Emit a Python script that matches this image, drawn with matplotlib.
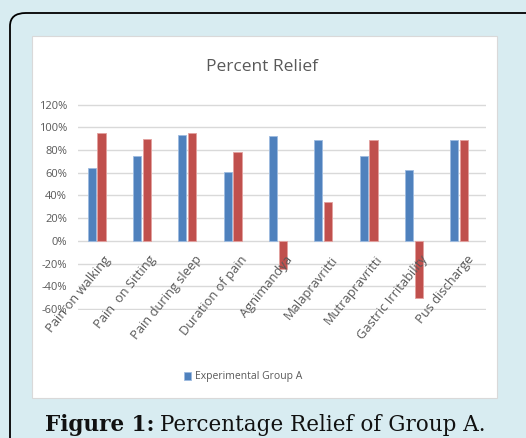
import matplotlib
matplotlib.use('Agg')
import matplotlib.pyplot as plt
from matplotlib.patches import FancyBboxPatch, Rectangle
from matplotlib.ticker import FuncFormatter, MultipleLocator
import numpy as np

# data
categories = ['Pain on walking', 'Pain  on Sitting', 'Pain during sleep', 'Duration of pain',
              'Agnimandya', 'Malapravritti', 'Mutrapravritti', 'Gastric Irritability',
              'Pus discharge']
group_a = [0.64, 0.75, 0.93, 0.61, 0.92, 0.89, 0.75, 0.62, 0.89]
second = [0.95, 0.90, 0.95, 0.78, -0.25, 0.34, 0.89, -0.50, 0.89]

W, H = 526, 438
fig = plt.figure(figsize=(W / 100, H / 100), dpi=100, facecolor='#d8ecf1')

# rounded outer frame (partly off the canvas like the source)
frame = FancyBboxPatch((10 / W, 1 - 500 / H), 560 / W, 487 / H,
                       boxstyle='round,pad=0,rounding_size=0.03',
                       transform=fig.transFigure, facecolor='none',
                       edgecolor='black', linewidth=1.3)
fig.patches.append(frame)

# white chart panel
panel = Rectangle((32 / W, 1 - 398 / H), (497 - 32) / W, (398 - 36) / H,
                  transform=fig.transFigure, facecolor='white',
                  edgecolor='#d9d9d9', linewidth=0.8)
fig.patches.append(panel)

gray = '#595959'
font = 'Open Sans'

ax = fig.add_axes([78 / W, 1 - 309.5 / H, (486 - 78) / W, (309.5 - 104) / H])
ax.set_zorder(5)
ax.set_facecolor('none')
x = np.arange(len(categories))
ax.bar(x - 0.2, group_a, width=0.18, color='#4F81BD', edgecolor='#9dbbe0',
       linewidth=0.6, label='Experimental Group A', zorder=3)
ax.bar(x + 0.02, second, width=0.18, color='#C0504D', edgecolor='#e3a09e',
       linewidth=0.6, zorder=3)

ax.set_xlim(-0.5, len(categories) - 0.5)
ax.set_ylim(-0.605, 1.205)
ax.yaxis.set_major_locator(MultipleLocator(0.2))
ax.yaxis.set_major_formatter(FuncFormatter(lambda v, p: '%d%%' % round(v * 100)))
ax.grid(axis='y', color='#d9d9d9', linewidth=1.0, zorder=0)
for s in ax.spines.values():
    s.set_visible(False)
ax.tick_params(axis='y', length=0, pad=8, labelcolor=gray, labelsize=8)
for t in ax.get_yticklabels():
    t.set_fontfamily(font)
ax.set_xticks([])

for i, c in enumerate(categories):
    ax.text(i + 0.06, -0.11, c, rotation=51, ha='right', va='top',
            rotation_mode='anchor', color=gray, fontsize=9.3, family=font,
            clip_on=False)

fig.text(262 / W, 1 - 67 / H, 'Percent Relief', ha='center', va='center',
         color=gray, fontsize=12.5, family=font, zorder=6)

leg = fig.legend(handles=ax.get_legend_handles_labels()[0],
                 labels=['Experimental Group A'], loc='center',
                 bbox_to_anchor=(243 / W, 1 - 377 / H), frameon=False,
                 prop={'family': font, 'size': 7.5}, handlelength=0.7,
                 handleheight=0.7, handletextpad=0.4)
leg.set_zorder(6)
for t in leg.get_texts():
    t.set_color(gray)

t1 = fig.text(45 / W, 1 - 425 / H, 'Figure 1:', ha='left', va='center',
              fontsize=15.5, fontweight='bold', family='DejaVu Serif', color='#111111')
fig.canvas.draw()
bb = t1.get_window_extent()
fig.text(bb.x1 / W + 6 / W, 1 - 425 / H, 'Percentage Relief of Group A.',
         ha='left', va='center', fontsize=15.5, family='DejaVu Serif', color='#111111')

fig.savefig('out.png', dpi=100, facecolor=fig.get_facecolor())
